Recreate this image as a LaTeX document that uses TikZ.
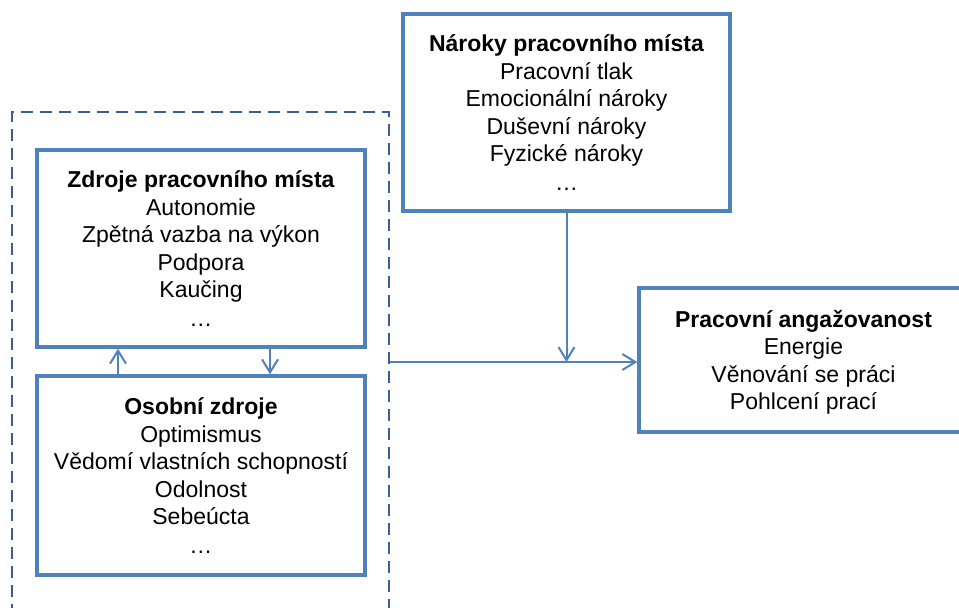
\documentclass[tikz,border=0pt]{standalone}
\usepackage{fontspec}
\setmainfont{Liberation Sans}
\usetikzlibrary{arrows.meta}
\definecolor{boxblue}{HTML}{4F81BD}
\definecolor{groupblue}{HTML}{3A5F8E}
\tikzset{
  box/.style={draw=boxblue, line width=3.5pt, fill=white, align=center,
    inner sep=0pt, font=\fontsize{23}{27.5}\selectfont},
  groupframe/.style={draw=groupblue, line width=2pt, dash pattern=on 12pt off 7pt,
    inner sep=0pt},
  link/.style={draw=boxblue, line width=2pt,
    -{Straight Barb[length=13pt,width=16pt,line width=2pt]}},
}
\begin{document}
\begin{tikzpicture}[x=1pt,y=-1pt]
\clip (0,0) rectangle (959,608);
\fill[white] (0,0) rectangle (959,608);

% dashed frame around the two resource boxes (runs below the lower edge)
\node[groupframe, minimum width=377, minimum height=540] (group) at (200.5,382) {};

\node[box, minimum width=327, minimum height=197] (naroky) at (566.5,112.5)
  {\textbf{Nároky pracovního místa}\\Pracovní tlak\\Emocionální nároky\\Duševní nároky\\Fyzické nároky\\[1pt]…};

\node[box, minimum width=328, minimum height=197] (zdroje) at (201,248.5)
  {\textbf{Zdroje pracovního místa}\\Autonomie\\Zpětná vazba na výkon\\Podpora\\Kaučing\\[1pt]…};

\node[box, minimum width=328, minimum height=199] (osobni) at (201,475.5)
  {\textbf{Osobní zdroje}\\Optimismus\\Vědomí vlastních schopností\\Odolnost\\Sebeúcta\\[1pt]…};

\node[box, minimum width=329, minimum height=144, text depth=-2pt] (engage) at (803.5,360)
  {\textbf{Pracovní angažovanost}\\Energie\\Věnování se práci\\Pohlcení prací};

% connectors
\coordinate (upx) at (118,0);
\coordinate (downx) at (270,0);
\coordinate (joiny) at (0,362);
\coordinate (join) at (naroky.south |- joiny);

\draw[link] (osobni.north -| upx) -- (zdroje.south -| upx);
\draw[link] (zdroje.south -| downx) -- (osobni.north -| downx);
\draw[link] (group.east |- join) -- (engage.west |- join);
\draw[link] (naroky.south) -- (join);
\end{tikzpicture}
\end{document}
